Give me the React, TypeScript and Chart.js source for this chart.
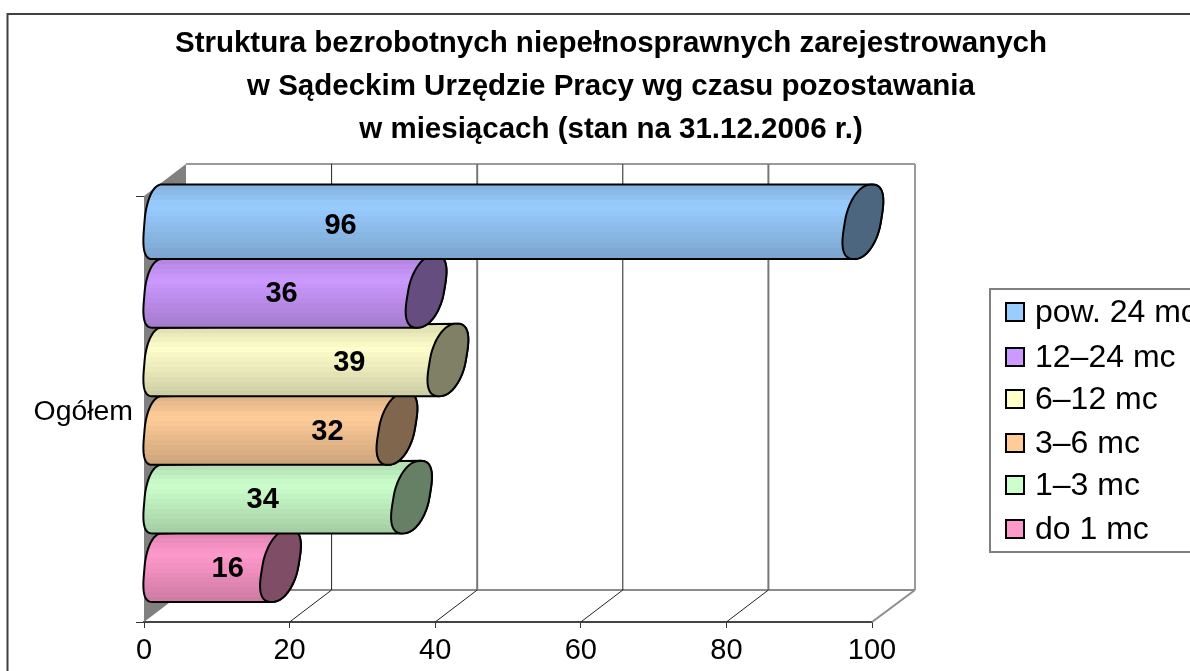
import React, { useEffect, useRef } from "react";
import { Chart, registerables } from "chart.js";

Chart.register(...registerables);

const categories = ["Ogółem"];
const seriesNames = ["pow. 24 mc", "12–24 mc", "6–12 mc", "3–6 mc", "1–3 mc", "do 1 mc"];
const seriesValues = [96, 36, 39, 32, 34, 16];
const seriesColors = ["#99CCFF", "#CC99FF", "#FFFFCC", "#FFCC99", "#CCFFCC", "#FF99CC"];
// where the reference places each value label, read in axis units
const labelAnchors = [27, 18.9, 28.2, 25.2, 16.3, 11.5];
const titleLines = [
  "Struktura bezrobotnych niepełnosprawnych zarejestrowanych",
  "w Sądeckim Urzędzie Pracy wg czasu pozostawania",
  "w miesiącach (stan na 31.12.2006 r.)",
];
const xTicks = [0, 20, 40, 60, 80, 100];
const legendRows = [312, 357, 399, 443, 485, 529];

const DEPTH_X = 42;
const DEPTH_Y = 32;
const BAR_DX = 20;
const BAR_DY = -12.8;

function shade(hex: string, f: number) {
  const n = parseInt(hex.slice(1), 16);
  const c = [(n >> 16) & 255, (n >> 8) & 255, n & 255].map((v) => Math.round(v * f));
  return `rgb(${c[0]},${c[1]},${c[2]})`;
}

function bandFactor(t: number) {
  if (t < 0.3) return 0.87 + (0.13 * t) / 0.3;
  return 1 - (0.2 * (t - 0.3)) / 0.7;
}

function line(ctx: CanvasRenderingContext2D, x1: number, y1: number, x2: number, y2: number, color: string, w: number) {
  ctx.strokeStyle = color;
  ctx.lineWidth = w;
  ctx.beginPath();
  ctx.moveTo(x1, y1);
  ctx.lineTo(x2, y2);
  ctx.stroke();
}

// rounded (superelliptic) outline point of a sheared tube section
function tubePoint(cx: number, cy: number, a: number, s: number, ry: number, p: number, t: number) {
  const c = Math.cos(t);
  const n = Math.sin(t);
  const pc = Math.sign(c) * Math.pow(Math.abs(c), p);
  const pn = Math.sign(n) * Math.pow(Math.abs(n), p);
  return [cx + a * pc - s * n, cy + ry * pn];
}

const scenePlugin = {
  id: "scene",
  afterLayout(chart: any) {
    chart.titleBlock.left = 32;
    chart.titleBlock.right = 1190;
  },
  beforeDatasetsDraw(chart: any) {
    const ctx: CanvasRenderingContext2D = chart.ctx;
    const { left, right, top, bottom } = chart.chartArea;
    const sx = chart.scales.x;
    ctx.save();
    ctx.fillStyle = "#808080";
    ctx.beginPath();
    ctx.moveTo(left, top);
    ctx.lineTo(left + DEPTH_X, top - DEPTH_Y);
    ctx.lineTo(left + DEPTH_X, bottom - DEPTH_Y);
    ctx.lineTo(left, bottom);
    ctx.closePath();
    ctx.fill();
    line(ctx, left + DEPTH_X, top - DEPTH_Y, right + DEPTH_X + 1, top - DEPTH_Y, "#9a9a9a", 2);
    line(ctx, left + DEPTH_X, bottom - DEPTH_Y, right + DEPTH_X + 1, bottom - DEPTH_Y, "#8c8c8c", 2);
    xTicks.forEach((v) => {
      const x = sx.getPixelForValue(v);
      if (v > 0 && v < 100) {
        const thick = v === 40 || v === 80;
        line(ctx, x + DEPTH_X, top - DEPTH_Y, x + DEPTH_X, bottom - DEPTH_Y, thick ? "#777777" : "#222222", thick ? 2 : 1);
        line(ctx, x, bottom, x + DEPTH_X, bottom - DEPTH_Y, "#222222", 1);
      }
      if (v === 100) {
        line(ctx, x + DEPTH_X + 1, top - DEPTH_Y, x + DEPTH_X + 1, bottom - DEPTH_Y, "#9a9a9a", 2);
        line(ctx, x, bottom, x + DEPTH_X + 1, bottom - DEPTH_Y, "#8c8c8c", 2);
      }
    });
    ctx.restore();
  },
  afterDatasetDraw(chart: any, args: any) {
    const ctx: CanvasRenderingContext2D = chart.ctx;
    const i = args.index;
    const el = args.meta.data[0];
    const base = seriesColors[i];
    const x1 = el.x + BAR_DX;
    const x0 = el.base + BAR_DX - 7;
    const cy = el.y + BAR_DY;
    const grow = i === 0 ? 6 : 0;
    const lift = i === 0 ? 0 : 4;
    const r = el.height / 2;
    const top = cy - r - grow;
    const bot = cy + r;
    const my = (top + bot) / 2;
    const rr = (bot - top) / 2;

    const capR = rr + lift / 2;
    const capY = my - lift / 2;
    const ptL = (t: number) => tubePoint(x0, my, 13, 5, rr, 0.8, t);
    const ptR = (t: number) => tubePoint(x1, capY, 18, 9, capR, 0.85, t);

    const grad = ctx.createLinearGradient(0, top, 0, bot);
    const bands = 14;
    for (let b = 0; b < bands; b++) {
      const c = shade(base, bandFactor((b + 0.5) / bands));
      grad.addColorStop(b / bands, c);
      grad.addColorStop((b + 1) / bands, c);
    }

    ctx.save();
    ctx.lineJoin = "round";
    ctx.strokeStyle = "#000";
    ctx.lineWidth = 2;
    // body
    ctx.beginPath();
    for (let k = 0; k <= 40; k++) {
      const t = Math.PI / 2 + (k / 40) * Math.PI;
      const [px, py] = ptL(t);
      if (k === 0) ctx.moveTo(px, py);
      else ctx.lineTo(px, py);
    }
    for (let k = 0; k <= 20; k++) {
      const t = -Math.PI / 2 + (k / 20) * Math.PI;
      const [px, py] = ptR(t);
      ctx.lineTo(px, py);
    }
    ctx.closePath();
    ctx.fillStyle = grad;
    ctx.fill();
    ctx.stroke();
    // end cap
    ctx.beginPath();
    for (let k = 0; k <= 60; k++) {
      const t = (k / 60) * Math.PI * 2;
      const [px, py] = ptR(t);
      if (k === 0) ctx.moveTo(px, py);
      else ctx.lineTo(px, py);
    }
    ctx.closePath();
    ctx.fillStyle = shade(base, 0.5);
    ctx.fill();
    ctx.stroke();
    ctx.restore();
  },
  afterDatasetsDraw(chart: any) {
    const ctx: CanvasRenderingContext2D = chart.ctx;
    const sx = chart.scales.x;
    ctx.save();
    ctx.fillStyle = "#000";
    ctx.font = 'bold 29px "Liberation Sans"';
    ctx.textAlign = "center";
    ctx.textBaseline = "middle";
    seriesValues.forEach((v, i) => {
      const el = chart.getDatasetMeta(i).data[0];
      ctx.fillText(String(v), sx.getPixelForValue(labelAnchors[i]), el.y + BAR_DY + 1);
    });
    ctx.restore();
  },
  afterDraw(chart: any) {
    const ctx: CanvasRenderingContext2D = chart.ctx;
    ctx.save();
    // chart frame
    ctx.strokeStyle = "#404040";
    ctx.lineWidth = 2;
    ctx.beginPath();
    ctx.moveTo(7.5, 671);
    ctx.lineTo(7.5, 14);
    ctx.lineTo(1190, 14);
    ctx.stroke();
    // legend
    ctx.strokeStyle = "#808080";
    ctx.lineWidth = 2;
    ctx.beginPath();
    ctx.moveTo(1192, 289);
    ctx.lineTo(990, 289);
    ctx.lineTo(990, 552);
    ctx.lineTo(1192, 552);
    ctx.stroke();
    ctx.font = '32px "Liberation Sans"';
    ctx.textAlign = "left";
    ctx.textBaseline = "middle";
    chart.data.datasets.forEach((d: any, i: number) => {
      const y = legendRows[i];
      ctx.fillStyle = seriesColors[i];
      ctx.fillRect(1006, y - 9, 18, 18);
      ctx.strokeStyle = "#000";
      ctx.lineWidth = 2;
      ctx.strokeRect(1006, y - 9, 18, 18);
      ctx.fillStyle = "#000";
      ctx.fillText(d.label, 1035, y + 1);
    });
    ctx.restore();
  },
};

export default function App() {
  const ref = useRef<HTMLCanvasElement>(null);
  useEffect(() => {
    document.body.style.margin = "0";
    const chart = new Chart(ref.current as HTMLCanvasElement, {
      type: "bar",
      data: {
        labels: categories,
        datasets: seriesNames.map((label, i) => ({
          label,
          data: [seriesValues[i]],
          backgroundColor: "rgba(0,0,0,0)",
          borderWidth: 0,
          barPercentage: 1,
          categoryPercentage: 0.966,
        })),
      },
      options: {
        indexAxis: "y",
        responsive: false,
        animation: false,
        layout: { padding: { left: 0, right: 318, top: 0, bottom: 0 } },
        plugins: {
          legend: { display: false },
          tooltip: { enabled: false },
          title: {
            display: true,
            text: titleLines,
            color: "#000",
            font: { family: "Liberation Sans", size: 29.5, weight: "bold", lineHeight: 1.458 },
            padding: { top: 22, bottom: 45 },
          },
        },
        scales: {
          x: {
            min: 0,
            max: 100,
            afterBuildTicks: (axis: any) => {
              axis.ticks = xTicks.map((value) => ({ value }));
            },
            afterFit: (axis: any) => {
              axis.height = 49;
            },
            border: { color: "#444", width: 2 },
            grid: { drawOnChartArea: false, drawTicks: true, tickLength: 6, color: "#333" },
            ticks: { color: "#000", padding: 6, maxRotation: 0, font: { family: "Liberation Sans", size: 29 } },
          },
          y: {
            afterFit: (axis: any) => {
              axis.width = 144;
            },
            border: { color: "#333", width: 1 },
            grid: { drawOnChartArea: false, drawTicks: true, tickLength: 8, color: "#333" },
            ticks: { color: "#000", padding: 3, labelOffset: 3, font: { family: "Liberation Sans", size: 28.4 } },
          },
        },
      },
      plugins: [scenePlugin],
    } as any);
    return () => chart.destroy();
  }, []);
  return (
    <div>
      <canvas ref={ref} width={1190} height={671} style={{ position: "absolute", left: 0, top: 0, display: "block", background: "#fff" }} />
    </div>
  );
}
